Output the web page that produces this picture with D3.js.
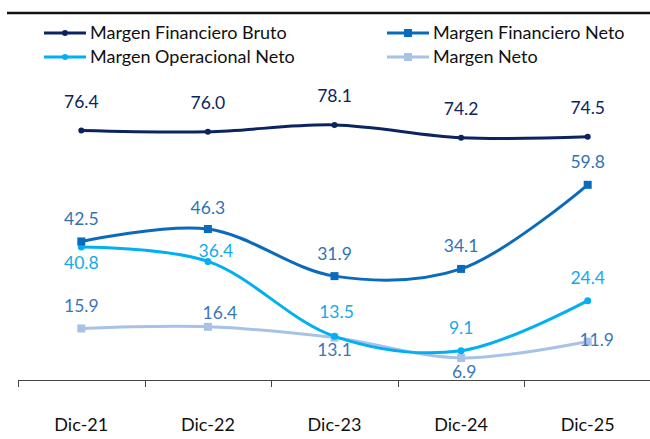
<!DOCTYPE html>
<html>
<head>
<meta charset="utf-8">
<script src="https://cdn.jsdelivr.net/npm/d3@7"></script>
<style>
  body { margin: 0; background: #fff; }
  text { font-family: Lato, "Open Sans", sans-serif; }
</style>
</head>
<body>
<svg id="chart" width="650" height="439"></svg>
<script>
// data
var periods = ["Dic-21", "Dic-22", "Dic-23", "Dic-24", "Dic-25"];
var bruto = [76.4, 76.0, 78.1, 74.2, 74.5];
var finNeto = [42.5, 46.3, 31.9, 34.1, 59.8];
var opNeto = [40.8, 36.4, 13.5, 9.1, 24.4];
var neto = [15.9, 16.4, 13.1, 6.9, 11.9];

var series = [
  { name: "Margen Financiero Bruto", values: bruto, color: "#0b2460", labelColor: "#0b2460", marker: "circle", r: 3,
    labelDy: [-29, -29, -29, -29, -29], labelDx: [0, 0, 0, 0, 0] },
  { name: "Margen Financiero Neto", values: finNeto, color: "#0a6bbd", labelColor: "#2f72b8", marker: "square", r: 4,
    labelDy: [-23, -21, -23, -23, -23], labelDx: [0, 0, 0, 0, 0] },
  { name: "Margen Operacional Neto", values: opNeto, color: "#00b0f0", labelColor: "#12aaeb", marker: "circle", r: 3.5,
    labelDy: [16, -11, -25, -23, -23], labelDx: [0, 8, 2, 0, 0] },
  { name: "Margen Neto", values: neto, color: "#a7c2e6", labelColor: "#3a76bb", marker: "square", r: 4,
    labelDy: [-23, -14, 12, 14, -2], labelDx: [0, 12, 0, 3, 9] }
];

var svg = d3.select("#chart");

// top rule
svg.append("line")
  .attr("x1", 7).attr("x2", 650)
  .attr("y1", 13).attr("y2", 13)
  .attr("stroke", "#111").attr("stroke-width", 2.5);

var x = d3.scaleBand().domain(periods).range([18, 651]);
var y = d3.scaleLinear().domain([0, 90]).range([380.5, 86]);

svg.append("line")
  .attr("x1", 18).attr("x2", 651).attr("y1", 380.5).attr("y2", 380.5)
  .attr("stroke", "#444").attr("stroke-width", 1);

var tickPos = periods.map(function(p){ return x(p); }).concat([651]);
svg.selectAll(".tick-mark")
  .data(tickPos)
  .enter().append("line")
  .attr("x1", function(d){ return Math.round(d) + 0.5; })
  .attr("x2", function(d){ return Math.round(d) + 0.5; })
  .attr("y1", 380.5).attr("y2", 387)
  .attr("stroke", "#444");

svg.selectAll(".period")
  .data(periods)
  .enter().append("text")
  .attr("x", function(d){ return x(d) + x.bandwidth() / 2; })
  .attr("y", 431)
  .attr("text-anchor", "middle")
  .attr("font-size", 18)
  .attr("fill", "#111")
  .text(function(d){ return d; });

var cx = function(i){ return x(periods[i]) + x.bandwidth() / 2; };

var line = d3.line()
  .x(function(d, i){ return cx(i); })
  .y(function(d){ return y(d); })
  .curve(d3.curveCatmullRom.alpha(0.5));

// draw lines back to front
[3, 2, 1, 0].forEach(function(k){
  var s = series[k];
  var g = svg.append("g");
  g.append("path")
    .attr("d", line(s.values))
    .attr("fill", "none")
    .attr("stroke", s.color)
    .attr("stroke-width", 3);

  s.values.forEach(function(v, i){
    if (s.marker == "circle") {
      g.append("circle").attr("cx", cx(i)).attr("cy", y(v)).attr("r", s.r).attr("fill", s.color);
    } else {
      g.append("rect").attr("x", cx(i) - s.r).attr("y", y(v) - s.r)
        .attr("width", s.r * 2).attr("height", s.r * 2).attr("fill", s.color);
    }
  });
});

// data labels
series.forEach(function(s){
  svg.append("g").selectAll("text")
    .data(s.values)
    .enter().append("text")
    .attr("x", function(d, i){ return cx(i) + s.labelDx[i]; })
    .attr("y", function(d, i){ return y(d) + s.labelDy[i] + 6.5; })
    .attr("text-anchor", "middle")
    .attr("font-size", 17.5)
    .attr("fill", s.labelColor)
    .text(function(d){ return d.toFixed(1); });
});

// legend
var legendPos = [[44, 33], [387, 33], [44, 57], [387, 57]];
series.forEach(function(s, k){
  var lx = legendPos[k][0], ly = legendPos[k][1];
  var g = svg.append("g");
  g.append("line").attr("x1", lx).attr("x2", lx + 42).attr("y1", ly).attr("y2", ly)
    .attr("stroke", s.color).attr("stroke-width", 3);
  if (s.marker == "circle") {
    g.append("circle").attr("cx", lx + 21).attr("cy", ly).attr("r", 3).attr("fill", s.color);
  } else {
    g.append("rect").attr("x", lx + 17).attr("y", ly - 4).attr("width", 8).attr("height", 8).attr("fill", s.color);
  }
  g.append("text").attr("x", lx + 46).attr("y", ly + 6)
    .attr("font-size", 18).attr("fill", "#111")
    .text(s.name);
});
</script>
</body>
</html>
